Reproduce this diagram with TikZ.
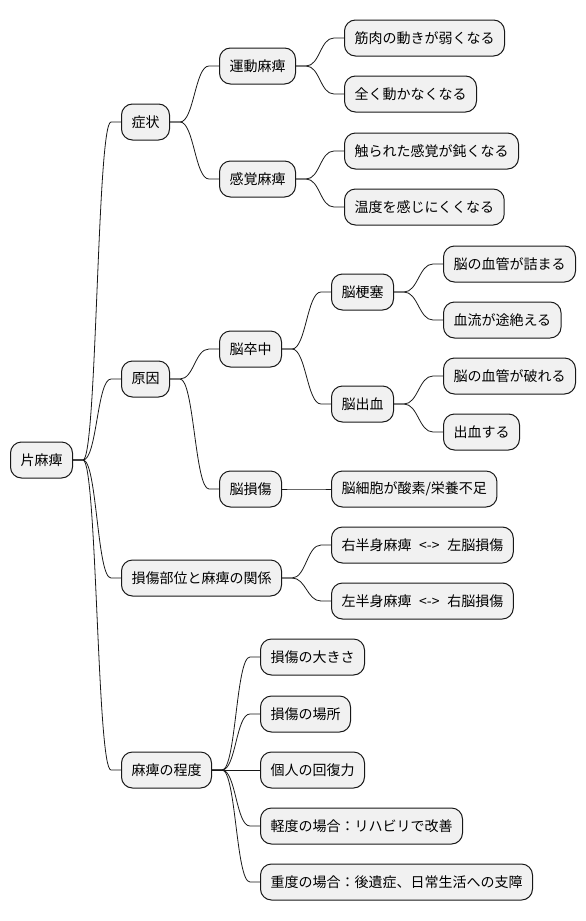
\documentclass[tikz,border=0pt]{standalone}
\usepackage{fontspec}
\setmainfont{Noto Sans CJK JP}
\usetikzlibrary{calc}
\definecolor{boxfill}{HTML}{F1F1F1}
\definecolor{boxline}{HTML}{181818}
\tikzstyle{topic}=[draw=boxline, line width=1pt, fill=boxfill, rounded corners=11pt, minimum height=36pt, inner xsep=10pt, inner ysep=0pt, anchor=west, font=\fontsize{14pt}{16pt}\selectfont]
\tikzstyle{link}=[line width=0.8pt, boxline]

\begin{document}
\begin{tikzpicture}[x=1pt, y=-1pt]
\useasboundingbox (0,0) rectangle (586,921);
% boxes: name / left edge / middle height / text
\foreach \n/\x/\y/\t in {
 root/10/460/片麻痺,
 sym/121/122/症状, cause/121/379/原因, rel/121/578/損傷部位と麻痺の関係, deg/121/770/麻痺の程度,
 motor/219/66/運動麻痺, sense/219/179/感覚麻痺, stroke/219/349/脳卒中, injury/219/489/脳損傷,
 weak/344/38/筋肉の動きが弱くなる, still/344/94/全く動かなくなる,
 dull/344/151/触られた感覚が鈍くなる, temp/344/207/温度を感じにくくなる,
 infarct/331/292/脳梗塞, bleed/331/404/脳出血, cells/331/489/{脳細胞が酸素/栄養不足},
 clog/443/264/脳の血管が詰まる, flow/443/320/血流が途絶える,
 burst/443/376/脳の血管が破れる, blood/443/432/出血する,
 right/331/545/{右半身麻痺\hspace{0.55em}<->\hspace{0.55em}左脳損傷},
 left/331/601/{左半身麻痺\hspace{0.55em}<->\hspace{0.55em}右脳損傷},
 size/260/657/損傷の大きさ, place/260/714/損傷の場所, heal/260/770/個人の回復力,
 mild/260/826/軽度の場合：リハビリで改善, severe/260/882/重度の場合：後遺症、日常生活への支障} {
 \node[topic] (\n) at (\x,\y) {\t};
}
% branches
\foreach \a/\b in {root/sym, root/cause, root/rel, root/deg,
 sym/motor, sym/sense, motor/weak, motor/still, sense/dull, sense/temp,
 cause/stroke, cause/injury, stroke/infarct, stroke/bleed, injury/cells,
 infarct/clog, infarct/flow, bleed/burst, bleed/blood,
 rel/right, rel/left,
 deg/size, deg/place, deg/heal, deg/mild, deg/severe} {
 \draw[link] (\a.east) -- ++(10,0) .. controls +(14,0) and +(-14,0) .. ($(\b.west)+(-10,0)$) -- (\b.west);
}
\end{tikzpicture}
\end{document}
